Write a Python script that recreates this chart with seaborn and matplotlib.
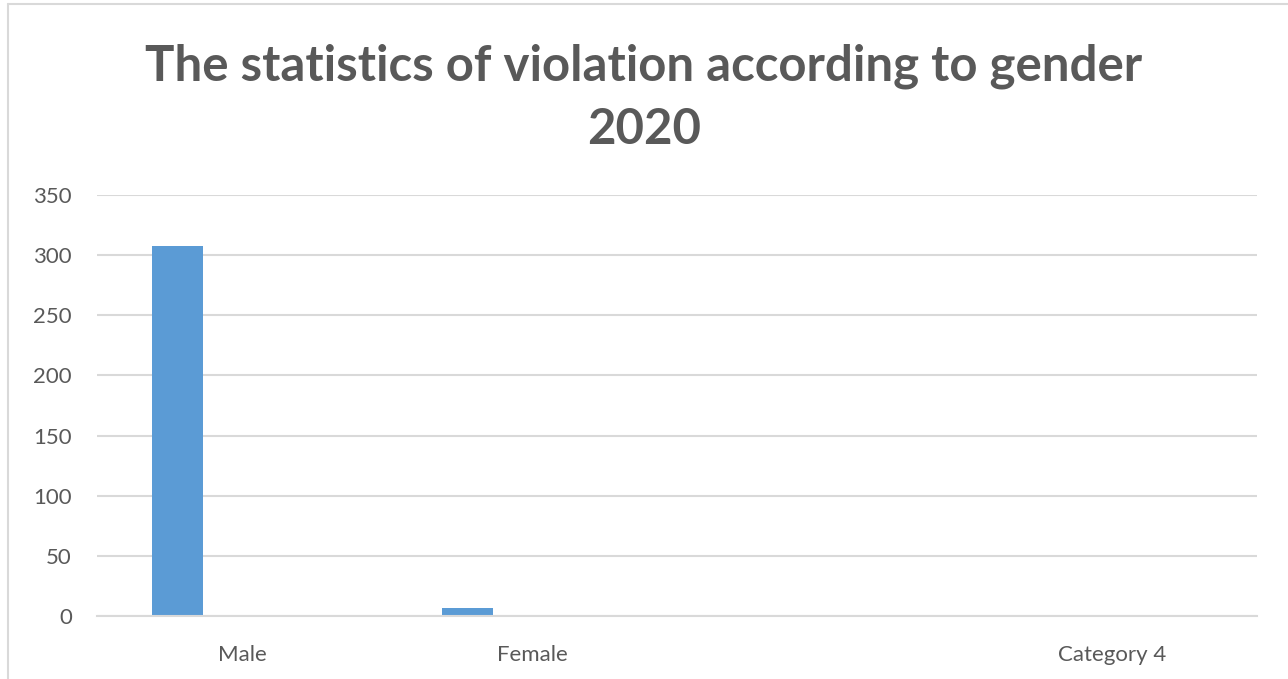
import numpy as np
import pandas as pd
import matplotlib
matplotlib.use('Agg')
import matplotlib.pyplot as plt
import seaborn as sns

# chart data (Excel-style clustered column, only Series 1 filled)
categories = ["Male", "Female", " ", "Category 4"]
series_names = ["Series 1", "Series 2", "Series 3"]
series1 = [308, 7, np.nan, np.nan]
series2 = [np.nan, np.nan, np.nan, np.nan]
series3 = [np.nan, np.nan, np.nan, np.nan]
y_ticks = [0, 50, 100, 150, 200, 250, 300, 350]

df = pd.DataFrame({
    "category": categories * 3,
    "series": [s for s in series_names for _ in categories],
    "value": series1 + series2 + series3,
})

sns.set_theme(style="white")
plt.rcParams['font.family'] = ['Lato', 'DejaVu Sans']

text_color = "#595959"
bar_color = "#5B9BD5"
grid_color = "#D9D9D9"

fig = plt.figure(figsize=(12.88, 6.79), dpi=100)
ax = fig.add_axes([97 / 1288, 63 / 679, (1257 - 97) / 1288, (616 - 195) / 679])

sns.barplot(data=df, x="category", y="value", hue="series",
            order=categories, hue_order=series_names,
            palette=[bar_color] * 3, saturation=1, linewidth=0,
            width=0.666, gap=0.2, legend=False, ax=ax, errorbar=None)

ax.set_ylim(0, 350)
ax.set_xlim(-0.5, len(categories) - 0.5)
ax.set_yticks(y_ticks)
ax.set_yticklabels([str(v) for v in y_ticks])
ax.yaxis.grid(True, color=grid_color, linewidth=1.5)
ax.set_axisbelow(True)
for side in ["top", "right", "left"]:
    ax.spines[side].set_visible(False)
ax.spines["bottom"].set_color(grid_color)
ax.spines["bottom"].set_linewidth(1.5)
ax.tick_params(axis="both", length=0, labelsize=16, colors=text_color)
ax.tick_params(axis="y", pad=18)
ax.tick_params(axis="x", pad=21)
ax.set_xlabel("")
ax.set_ylabel("")

fig.text(0.5, 0.902, "The statistics of violation according to gender",
         ha="center", va="center", fontsize=35.4, fontweight="bold", color=text_color)
fig.text(0.5, 0.81, "2020", ha="center", va="center",
         fontsize=35.4, fontweight="bold", color=text_color)

# chart border (only top/left edges visible in the crop)
fig.add_artist(plt.Line2D([8 / 1288, 8 / 1288], [0, 1 - 4 / 679],
                          transform=fig.transFigure, color="#D9D9D9", linewidth=1.5))
fig.add_artist(plt.Line2D([8 / 1288, 1], [1 - 4 / 679, 1 - 4 / 679],
                          transform=fig.transFigure, color="#D9D9D9", linewidth=1.5))

fig.savefig("out.png", dpi=100)
